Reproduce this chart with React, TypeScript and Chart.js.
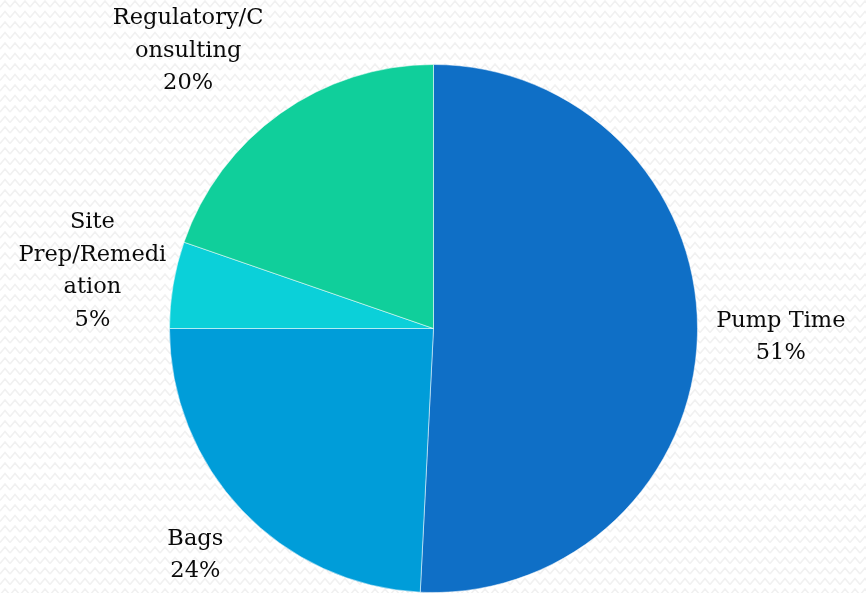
import React, { useEffect, useRef } from "react";
import { Chart, registerables } from "chart.js";

Chart.register(...registerables);

const categories = ["Pump Time", "Bags", "Site Prep/Remediation", "Regulatory/Consulting"];
const values = [50.8, 24.2, 5.3, 19.7];
const labelLines = [["Pump Time"], ["Bags"], ["Site", "Prep/Remedi", "ation"], ["Regulatory/C", "onsulting"]];
const colors = ["#0F6FC6", "#009DD9", "#0BD0D9", "#10CF9B"];
const labelDistance = [1.316, 1.245, 1.31, 1.404];
const labelNudgeDeg = [0, 0, 0, -6];

const FONT = "22.5px 'DejaVu Serif', serif";
const LINE_H = 32.5;

const bgPlugin = {
  id: "zigzagBg",
  beforeDraw(chart: any) {
    const { ctx, width, height } = chart;
    ctx.save();
    ctx.fillStyle = "#ffffff";
    ctx.fillRect(0, 0, width, height);
    ctx.strokeStyle = "#f1f1f1";
    ctx.lineWidth = 1.6;
    const period = 10;
    const amp = 3;
    for (let y = 4; y < height + 10; y += 10.5) {
      ctx.beginPath();
      for (let x = -period; x < width + period; x += period) {
        ctx.moveTo(x, y + amp);
        ctx.lineTo(x + period / 2, y - amp);
        ctx.lineTo(x + period, y + amp);
      }
      ctx.stroke();
    }
    ctx.restore();
  },
};

const labelPlugin = {
  id: "outsideLabels",
  afterDatasetsDraw(chart: any) {
    const { ctx } = chart;
    const meta = chart.getDatasetMeta(0);
    const data = chart.data.datasets[0].data as number[];
    const total = data.reduce((a, b) => a + b, 0);
    ctx.save();
    ctx.font = FONT;
    ctx.fillStyle = "#0a0a0a";
    ctx.textAlign = "center";
    ctx.textBaseline = "middle";
    meta.data.forEach((arc: any, i: number) => {
      const { x, y, startAngle, endAngle, outerRadius } = arc.getProps(
        ["x", "y", "startAngle", "endAngle", "outerRadius"],
        true
      );
      const mid = (startAngle + endAngle) / 2 + (labelNudgeDeg[i] * Math.PI) / 180;
      const d = outerRadius * labelDistance[i];
      const cx = x + Math.cos(mid) * d;
      const cy = y + Math.sin(mid) * d;
      const pct = Math.round((data[i] / total) * 100) + "%";
      const lines = [...labelLines[i], pct];
      const top = cy - ((lines.length - 1) * LINE_H) / 2;
      lines.forEach((t, k) => ctx.fillText(t, cx, top + k * LINE_H));
    });
    ctx.restore();
  },
};

export default function App() {
  const ref = useRef<HTMLCanvasElement>(null);
  useEffect(() => {
    if (!ref.current) return;
    const chart = new Chart(ref.current, {
      type: "pie",
      data: {
        labels: categories,
        datasets: [
          {
            data: values,
            backgroundColor: colors,
            borderColor: "rgba(255,255,255,0.5)",
            borderWidth: 1,
          },
        ],
      },
      options: {
        responsive: false,
        animation: false,
        layout: { padding: { top: 64, left: 169, right: 168, bottom: 0 } },
        plugins: {
          legend: { display: false },
          tooltip: { enabled: false },
        },
      },
      plugins: [bgPlugin, labelPlugin],
    });
    return () => chart.destroy();
  }, []);
  return (
    <div style={{ position: "absolute", left: 0, top: 0, width: 866, height: 593 }}>
      <canvas ref={ref} width={866} height={593} style={{ display: "block" }} />
    </div>
  );
}
